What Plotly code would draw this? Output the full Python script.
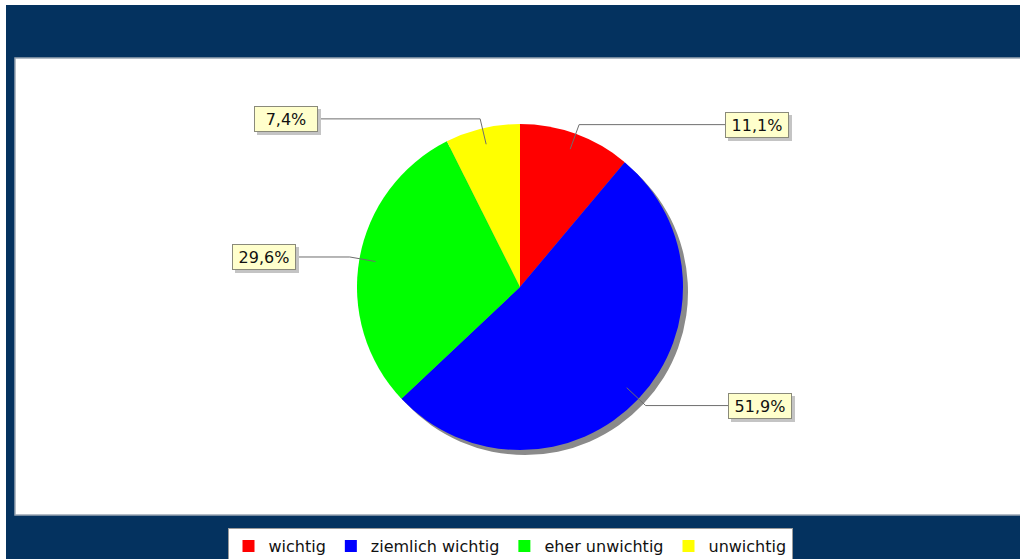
import math
import plotly.graph_objects as go

# Survey answers (counts) and their slice colours
categories = ["wichtig", "ziemlich wichtig", "eher unwichtig", "unwichtig"]
counts = [3, 14, 8, 2]
slice_colors = ["#ff0000", "#0000ff", "#00ff00", "#ffff00"]

W, H = 1020, 559
NAVY = "#04325f"

# Pie geometry in pixels
CX, CY, R = 520, 287, 163
SHADOW = 5

# Outer edge (px) of each label box: left edge for right-side labels,
# right edge for left-side labels
label_edge_x = [725, 728, 296, 318]


def px(x):
    return x / W


def py(y):
    return 1 - y / H


total = sum(counts)
pct_text = [f"{100 * c / total:.1f}".replace(".", ",") + "%" for c in counts]

fig = go.Figure()

# Drop shadow of the pie
fig.add_trace(go.Pie(
    labels=categories, values=counts, sort=False, direction="clockwise",
    rotation=0, marker=dict(colors=["#8a8a8a"] * len(counts), line=dict(width=0)),
    textinfo="none", hoverinfo="skip", showlegend=False,
    domain=dict(x=[px(CX - R + SHADOW), px(CX + R + SHADOW)],
                y=[py(CY + R + SHADOW), py(CY - R + SHADOW)]),
))

# The pie itself
fig.add_trace(go.Pie(
    labels=categories, values=counts, sort=False, direction="clockwise",
    rotation=0, marker=dict(colors=slice_colors, line=dict(width=0)),
    textinfo="none", hoverinfo="label+percent", showlegend=True,
    domain=dict(x=[px(CX - R), px(CX + R)], y=[py(CY + R), py(CY - R)]),
))

shapes = [
    # outer frame
    dict(type="rect", xref="paper", yref="paper", x0=px(6), x1=px(W), y0=py(H), y1=py(5),
         fillcolor=NAVY, line=dict(width=0), layer="below"),
    # plot area
    dict(type="rect", xref="paper", yref="paper", x0=px(15), x1=px(W + 2), y0=py(515), y1=py(58),
         fillcolor="white", line=dict(color="#9aa6b4", width=1.5), layer="below"),
]

annotations = []
cum = 0
for i, c in enumerate(counts):
    theta = 2 * math.pi * (cum + c / 2) / total
    cum += c
    s, co = math.sin(theta), math.cos(theta)
    x0, y0 = CX + 0.9 * R * s, CY - 0.9 * R * co
    x1, y1 = CX + 1.06 * R * s, CY - 1.06 * R * co
    x2 = label_edge_x[i]
    shapes.append(dict(
        type="path", xref="paper", yref="paper",
        path=f"M {px(x0)},{py(y0)} L {px(x1)},{py(y1)} L {px(x2)},{py(y1)}",
        line=dict(color="#6e6e6e", width=1),
    ))
    anchor = "left" if s >= 0 else "right"
    box = dict(x=px(x2), y=py(y1), xref="paper", yref="paper",
               xanchor=anchor, yanchor="middle", showarrow=False,
               width=58, height=20, borderpad=2, borderwidth=1)
    # box shadow
    annotations.append(dict(box, text=" ", bgcolor="#c4c4c4", bordercolor="#c4c4c4",
                            xshift=3, yshift=-3))
    annotations.append(dict(box, text=pct_text[i], bgcolor="#ffffcc", bordercolor="#8a8a7a",
                            font=dict(family="DejaVu Sans", size=16, color="#111111")))

fig.update_layout(
    width=W, height=H,
    margin=dict(l=0, r=0, t=0, b=0, autoexpand=False),
    paper_bgcolor="white",
    plot_bgcolor="white",
    shapes=shapes,
    annotations=annotations,
    legend=dict(
        orientation="h", x=0.5, xanchor="center", y=py(546), yanchor="middle",
        bgcolor="white", bordercolor="#9a9a9a", borderwidth=1,
        font=dict(family="DejaVu Sans", size=16, color="#111111"),
        itemwidth=30, tracegroupgap=0,
    ),
)

fig.write_html("out.html")
